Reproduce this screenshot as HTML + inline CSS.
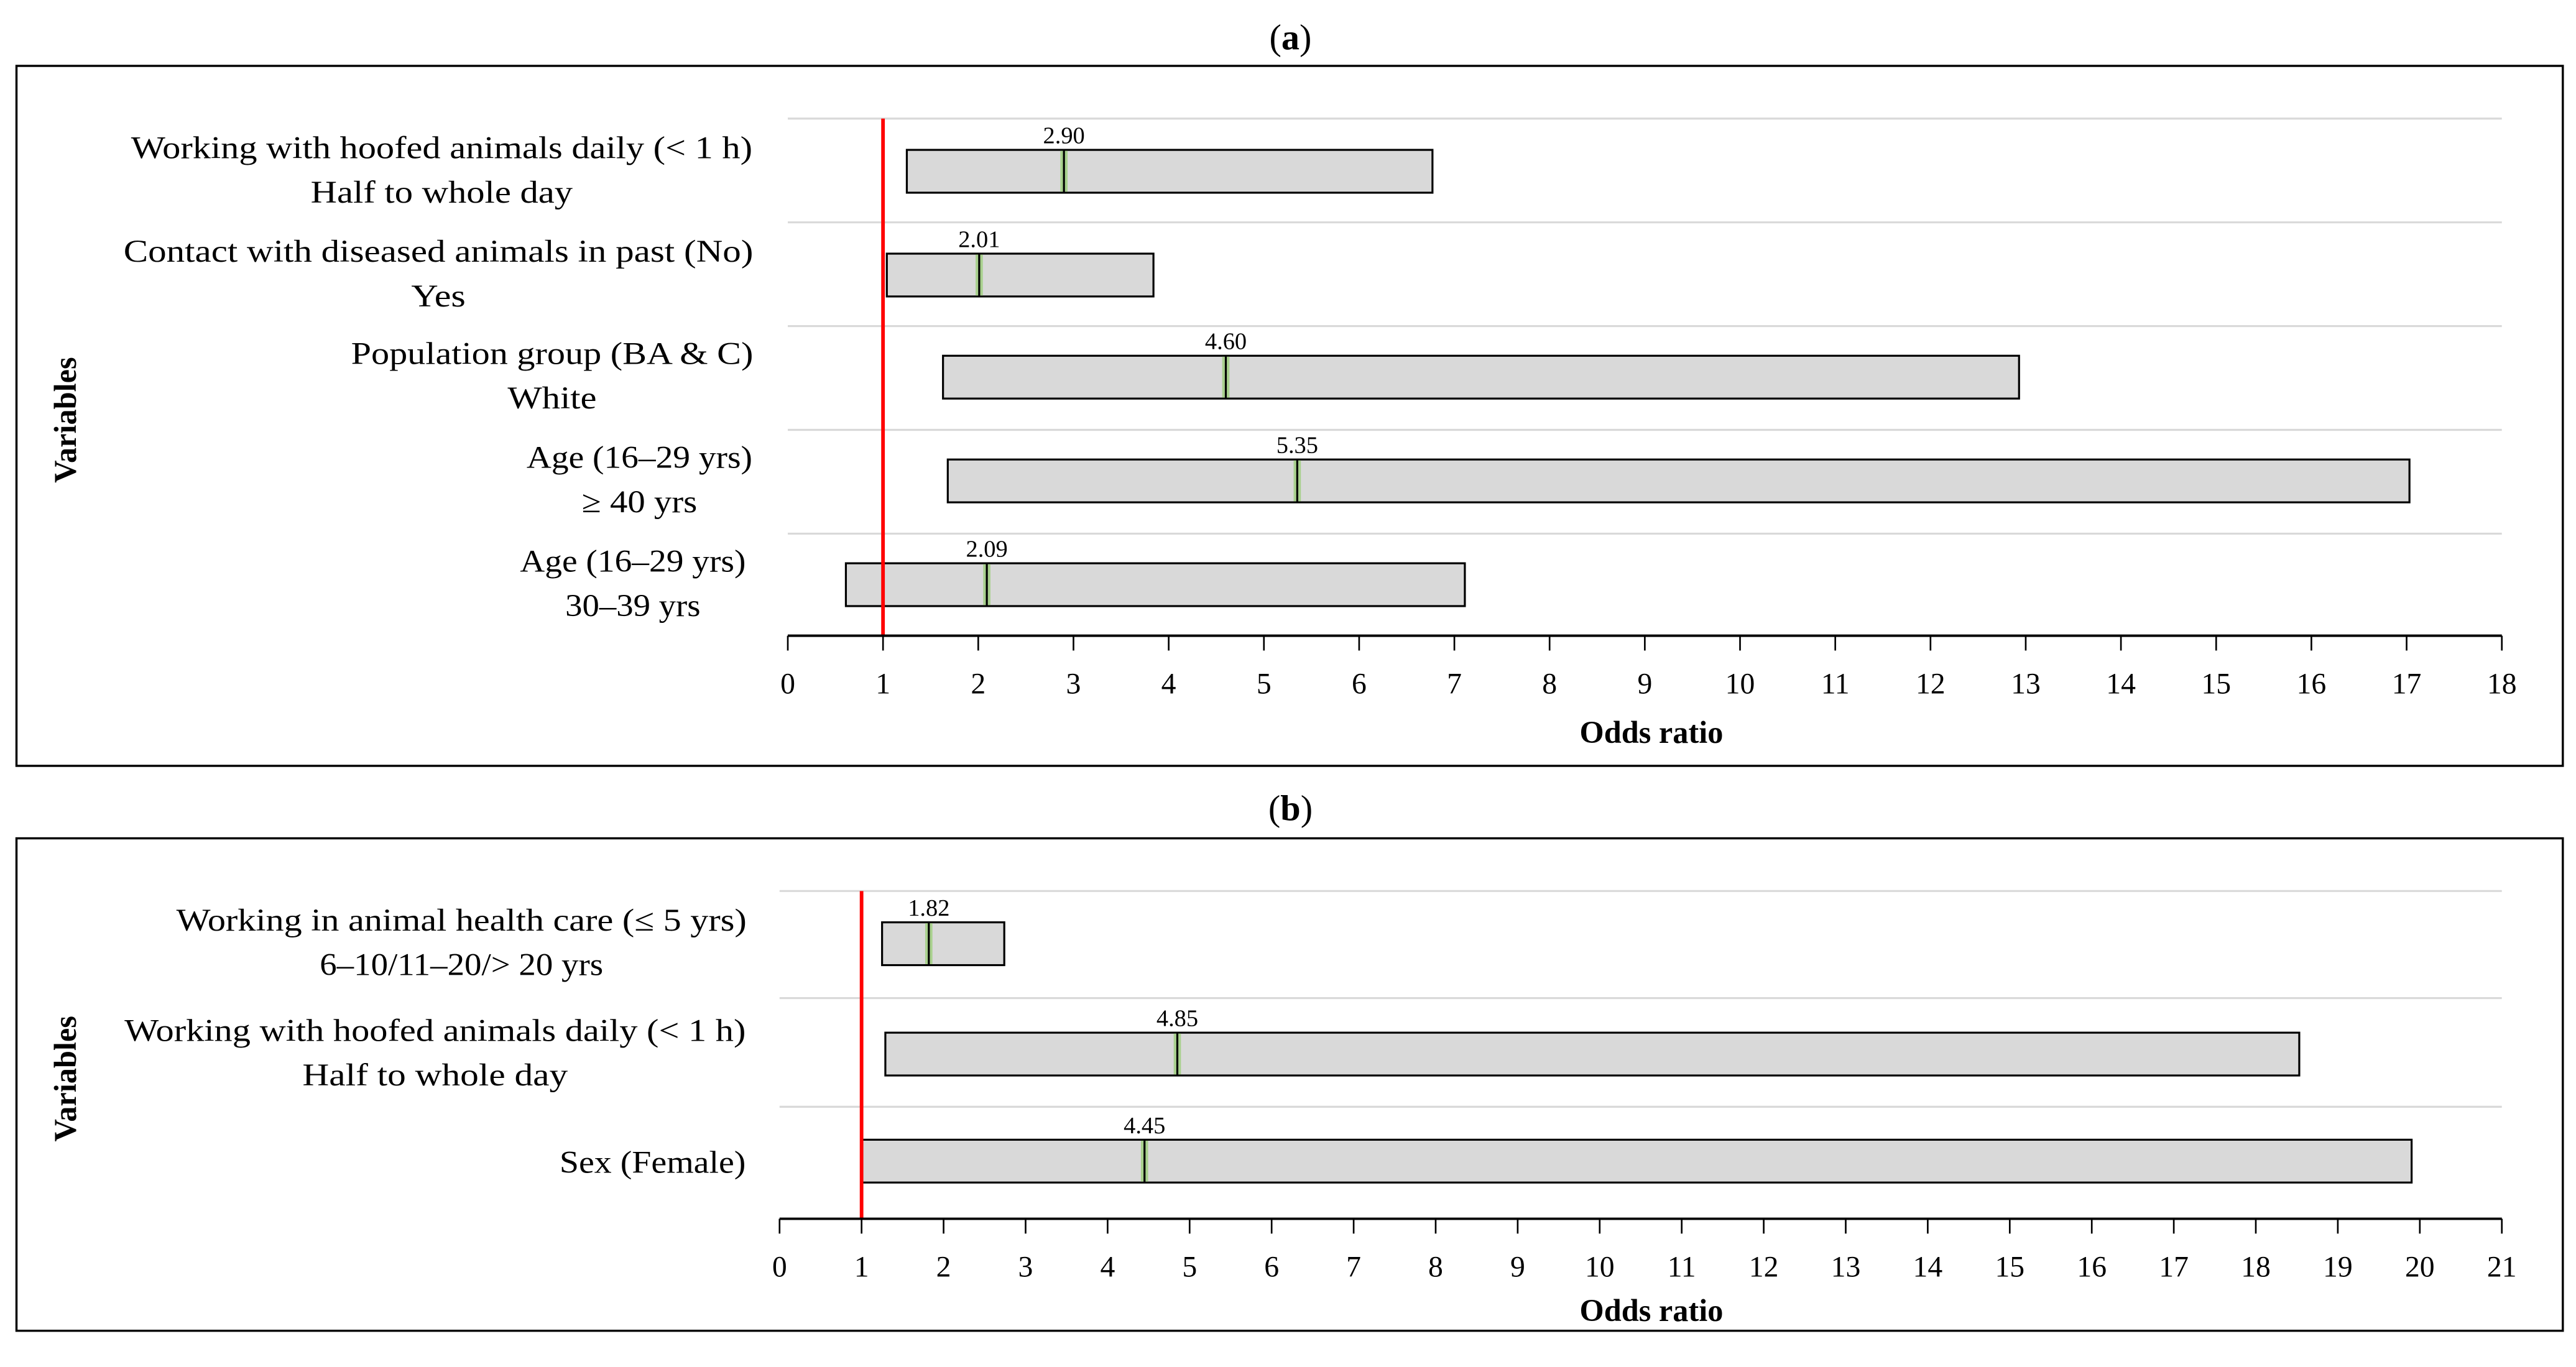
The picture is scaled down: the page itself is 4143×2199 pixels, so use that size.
<!DOCTYPE html>
<html><head><meta charset="utf-8"><style>
html,body{margin:0;padding:0;background:#fff;}
svg{display:block;}
text{font-family:"Liberation Serif",serif;fill:#000;}
</style></head><body>
<svg id="chart" xmlns="http://www.w3.org/2000/svg" width="4143" height="2199" viewBox="0 0 1563 830" preserveAspectRatio="none">
<g id="pa"></g>
<g id="pb"></g>
</svg>
<script>
const catsA1 = ["Working with hoofed animals daily (< 1 h)","Contact with diseased animals in past (No)","Population group (BA & C)","Age (16–29 yrs)","Age (16–29 yrs)"];
const catsA2 = ["Half to whole day","Yes","White","≥ 40 yrs","30–39 yrs"];
const lowA = [1.25,1.04,1.63,1.68,0.61];
const highA = [6.77,3.84,12.93,17.03,7.11];
const orA = [2.90,2.01,4.60,5.35,2.09];
const ticksA = [0,1,2,3,4,5,6,7,8,9,10,11,12,13,14,15,16,17,18];

const catsB1 = ["Working in animal health care (≤ 5 yrs)","Working with hoofed animals daily (< 1 h)","Sex (Female)"];
const catsB2 = ["6–10/11–20/> 20 yrs","Half to whole day",""];
const lowB = [1.25,1.29,1.0];
const highB = [2.74,18.53,19.9];
const orB = [1.82,4.85,4.45];
const ticksB = [0,1,2,3,4,5,6,7,8,9,10,11,12,13,14,15,16,17,18,19,20,21];

const NS="http://www.w3.org/2000/svg";
function mk(parent,tag,attrs,txt){const e=document.createElementNS(NS,tag);for(const k in attrs)e.setAttribute(k,attrs[k]);if(txt!==undefined)e.textContent=txt;parent.appendChild(e);return e;}

function panel(g,cfg){
  const {title,titleY,boxY,boxH,x0,x1,max,grid,axisY,tickLabY,axTitleY,rowTop,cats1,cats2,lo,hi,or,ticks,centers,firstLens,secondLens,varY,line2dy,single} = cfg;
  const sx=v=>x0+(x1-x0)*v/max;
  let t=mk(g,'text',{x:783,y:titleY,'text-anchor':'middle','font-size':22},'');
  t.innerHTML='(<tspan font-weight="bold">'+title+'</tspan>)';
  
  
  let b=mk(g,'rect',{x:10,y:boxY,width:1545,height:boxH,fill:'none',stroke:'#000','stroke-width':1.3});
  
  
  grid.forEach(y=>{const l=mk(g,'line',{x1:x0,x2:x1,y1:y,y2:y,stroke:'#d9d9d9','stroke-width':1.2});
    
    });
  lo.forEach((v,i)=>{
    const y=rowTop[i];
    const r=mk(g,'rect',{x:sx(v),y:y,width:sx(hi[i])-sx(v),height:26,fill:'#d9d9d9',stroke:'#000','stroke-width':1.2});
    
    
    const m=mk(g,'rect',{x:sx(or[i])-2.2,y:y+0.6,width:4.4,height:24.8,fill:'#a9d18e'});
    
    
    const ml=mk(g,'line',{x1:sx(or[i]),x2:sx(or[i]),y1:y,y2:y+26,stroke:'#000','stroke-width':1.2});
    
    
    const vl=mk(g,'text',{x:sx(or[i]),y:y-4,'text-anchor':'middle','font-size':14.5,fill:single?'#444':'#000'},or[i].toFixed(2));
    
    
    const c1=mk(g,'text',{x:centers[i],y:cats2[i]?y+5:y+20,'text-anchor':'middle','font-size':19,textLength:firstLens[i],lengthAdjust:'spacingAndGlyphs'},cats1[i]);
    
    
    if(cats2[i]){const c2=mk(g,'text',{x:centers[i],y:y+5+line2dy,'text-anchor':'middle','font-size':19,textLength:secondLens[i],lengthAdjust:'spacingAndGlyphs'},cats2[i]);
      
      }
  });
  const rl=mk(g,'line',{x1:sx(1),x2:sx(1),y1:grid[0],y2:axisY,stroke:'#ff0000','stroke-width':2.2});
  
  
  const ax=mk(g,'line',{x1:x0,x2:x1,y1:axisY,y2:axisY,stroke:'#000','stroke-width':1.5});
  
  
  ticks.forEach(v=>{
    const tk=mk(g,'line',{x1:sx(v),x2:sx(v),y1:axisY,y2:axisY+9,stroke:'#000','stroke-width':1});
    
    
    const tl=mk(g,'text',{x:sx(v),y:tickLabY,'text-anchor':'middle','font-size':18,fill:v===1?'#e00000':'#000'},String(v));
    
    
  });
  const at=mk(g,'text',{x:1002,y:axTitleY,'text-anchor':'middle','font-size':19,'font-weight':'bold'},'Odds ratio');
  
  
  const vt=mk(g,'text',{x:0,y:0,'text-anchor':'middle','font-size':19,'font-weight':'bold',transform:'translate(46,'+varY+') rotate(-90)'},'Variables');
  
  
}

panel(document.getElementById('pa'),{title:'a',titleY:30,boxY:40,boxH:425,x0:478,x1:1518,max:18,
  grid:[72,135,198,261,324],axisY:386,tickLabY:421,axTitleY:451,rowTop:[91,154,216,279,342],
  cats1:catsA1,cats2:catsA2,lo:lowA,hi:highA,or:orA,ticks:ticksA,
  centers:[268,266,335,388,384],firstLens:[377,382,244,137,137],secondLens:[159,33,54,70,82],varY:255,line2dy:27,single:false});
panel(document.getElementById('pb'),{title:'b',titleY:498,boxY:509,boxH:299,x0:473,x1:1518,max:21,
  grid:[541,606,672],axisY:740,tickLabY:775,axTitleY:802,rowTop:[560,627,692],
  cats1:catsB1,cats2:catsB2,lo:lowB,hi:highB,or:orB,ticks:ticksB,
  centers:[280,264,396],firstLens:[346,377,113],secondLens:[172,161,0],varY:655,line2dy:27,single:true});
</script>
</body></html>
